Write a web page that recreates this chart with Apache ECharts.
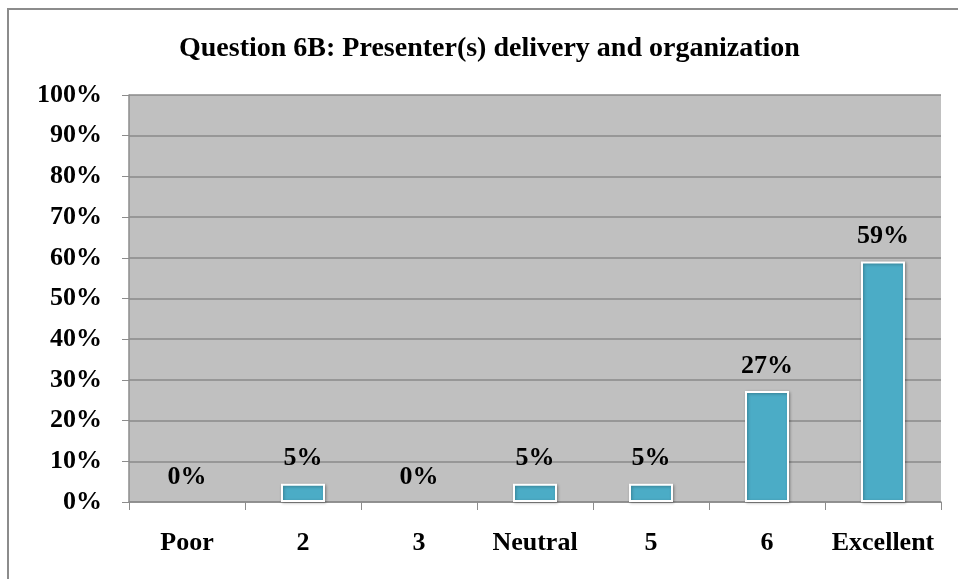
<!DOCTYPE html>
<html>
<head>
  <meta charset="utf-8">
  <title>Question 6B</title>
  <script src="https://cdn.jsdelivr.net/npm/echarts@6/dist/echarts.min.js"></script>
  <style>
    html, body { margin: 0; padding: 0; background: #fff; }
    #main { width: 958px; height: 579px; }
  </style>
</head>
<body>
  <div id="main"></div>
  <script type="text/javascript">
    // ratings and share of answers (%)
    var categories = ['Poor', '2', '3', 'Neutral', '5', '6', 'Excellent'];
    var shares = [0, 4.5, 0, 4.5, 4.5, 27.3, 59.1];
    var yTicks = [0, 10, 20, 30, 40, 50, 60, 70, 80, 90, 100];

    var serif = '"Liberation Serif", "Times New Roman", serif';
    var chart = echarts.init(document.getElementById('main'));

    // empty bars drawn invisible so only their label shows
    var barData = shares.map(function (v) {
      if (v === 0) {
        return {
          value: v,
          itemStyle: { color: 'rgba(0,0,0,0)', borderColor: 'rgba(0,0,0,0)', borderWidth: 0, shadowColor: 'rgba(0,0,0,0)' }
        };
      }
      return v;
    });

    var option = {
      animation: false,
      backgroundColor: '#fff',
      title: {
        text: 'Question 6B: Presenter(s) delivery and organization',
        left: 179,
        top: 35,
        padding: 0,
        textStyle: { fontFamily: serif, fontWeight: 'bold', fontSize: 28, color: '#000' }
      },
      graphic: [{
        type: 'rect',
        shape: { x: 8, y: 9, width: 1000, height: 1000 },
        style: { fill: 'none', stroke: '#8c8c8c', lineWidth: 2 },
        silent: true
      }],
      grid: {
        left: 129, right: 17, top: 95, bottom: 77,
        show: true, backgroundColor: '#c0c0c0', borderWidth: 0
      },
      xAxis: {
        type: 'category',
        data: categories,
        axisLine: { lineStyle: { color: '#8c8c8c', width: 1.5 } },
        axisTick: { show: true, length: 8, lineStyle: { color: '#8c8c8c' } },
        axisLabel: {
          interval: 0,
          margin: 28,
          fontFamily: serif, fontWeight: 'bold', fontSize: 26, color: '#000'
        }
      },
      yAxis: {
        type: 'value',
        min: yTicks[0],
        max: yTicks[yTicks.length - 1],
        interval: 10,
        axisLine: { show: true, lineStyle: { color: '#8c8c8c', width: 1.5 } },
        axisTick: { show: true, length: 7, lineStyle: { color: '#8c8c8c' } },
        splitLine: { lineStyle: { color: '#8a8a8a', width: 1.5 } },
        axisLabel: {
          margin: 27,
          formatter: '{value}%',
          fontFamily: serif, fontWeight: 'bold', fontSize: 26, color: '#000'
        }
      },
      series: [{
        type: 'bar',
        data: barData,
        barWidth: 44,
        itemStyle: {
          color: '#4bacc6',
          borderColor: '#ffffff',
          borderWidth: 2,
          shadowColor: 'rgba(0,0,0,0.3)',
          shadowBlur: 3,
          shadowOffsetX: 1,
          shadowOffsetY: 1
        },
        label: {
          show: true,
          position: 'top',
          distance: 12,
          formatter: function (p) { return Math.round(p.value) + '%'; },
          fontFamily: serif, fontWeight: 'bold', fontSize: 26, color: '#000'
        }
      }]
    };

    chart.setOption(option);
  </script>
</body>
</html>
